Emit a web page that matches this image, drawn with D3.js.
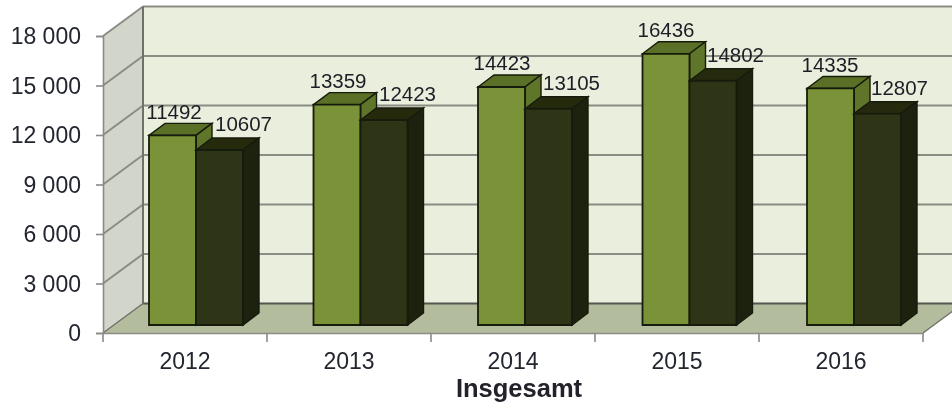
<!DOCTYPE html>
<html><head><meta charset="utf-8">
<script src="https://cdn.jsdelivr.net/npm/d3@7/dist/d3.min.js"></script>
<style>html,body{margin:0;background:#fff}svg{display:block}text{font-family:"Liberation Sans",Arial,sans-serif}</style>
</head><body><svg id="c" width="952" height="408"></svg>
<script>
const years=["2012","2013","2014","2015","2016"];
const seriesA=[11492,13359,14423,16436,14335];
const seriesB=[10607,12423,13105,14802,12807];
const yTicks=[0,3000,6000,9000,12000,15000,18000];
const axisTitle="Insgesamt";
const C={wall:"#e9eedd",side:"#d2d5ca",floor:"#b3bd9e",grid:"#8b8d84",edge:"#6f716a",
 a:"#7a9238",aTop:"#5a6f26",aSide:"#5f7629",b:"#2e3417",bTop:"#252b11",bSide:"#1f240e",stroke:"#171b08",text:"#22252f"};
const W=952,H=408,depthX=40,depthY=-29.5,barDX=16,barDY=-12;
const svg=d3.select("#c");
const defs=svg.append("defs");
defs.append("filter").attr("id","soft").append("feGaussianBlur").attr("stdDeviation",0.7);
const root=svg.append("g").attr("filter","url(#soft)");
const x=d3.scaleBand().domain(years).range([103,923]);
const xBars=d3.scaleBand().domain(years).range([103,925.5]);
const y=d3.scaleLinear().domain([0,18000]).range([333,36]);
const barBase=y(0)-8;
const h=v=>y(0)-y(v);
const poly=(pts,fill,stroke,sw)=>root.append("polygon").attr("points",pts.map(p=>p.join(",")).join(" ")).attr("fill",fill).attr("stroke",stroke||"none").attr("stroke-width",sw||0);
const x0=x.range()[0],x1=x.range()[1];
poly([[x0+depthX,y(18000)+depthY],[W+5,y(18000)+depthY],[W+5,y(0)+depthY],[x0+depthX,y(0)+depthY]],C.wall);
poly([[x0,y(18000)],[x0+depthX,y(18000)+depthY],[x0+depthX,y(0)+depthY],[x0,y(0)]],C.side);
poly([[x0,y(0)],[x0+depthX,y(0)+depthY],[x1+depthX,y(0)+depthY],[x1,y(0)]],C.floor);
yTicks.forEach(t=>{
 const g=t===0?C.edge:C.grid;
 root.append("line").attr("x1",x0+depthX).attr("x2",W+5).attr("y1",y(t)+depthY).attr("y2",y(t)+depthY).attr("stroke",t===0?"#55574f":g).attr("stroke-width",2);
 root.append("line").attr("x1",x0).attr("x2",x0+depthX).attr("y1",y(t)).attr("y2",y(t)+depthY).attr("stroke",g).attr("stroke-width",t===0?1.5:2);
});
root.append("line").attr("x1",x0+depthX).attr("x2",x0+depthX).attr("y1",y(18000)+depthY).attr("y2",y(0)+depthY).attr("stroke",C.edge).attr("stroke-width",2);
root.append("line").attr("x1",x1).attr("x2",x1+depthX).attr("y1",y(0)).attr("y2",y(0)+depthY).attr("stroke",C.edge).attr("stroke-width",1.5);
const fmt=d3.formatLocale({thousands:" ",grouping:[3],decimal:",",currency:["",""]}).format(",d");
const ax=root.append("g").attr("transform",`translate(${x0},0)`).call(d3.axisLeft(y).tickValues(yTicks).tickFormat(fmt).tickSize(7).tickPadding(15));
ax.selectAll("text").attr("font-size",23).attr("fill",C.text).attr("dy","0.34em");
ax.selectAll("line,path").attr("stroke","#8a8a86").attr("stroke-width",1.6);
const bx=root.append("g").attr("transform",`translate(0,${y(0)})`).call(d3.axisBottom(x).tickSizeOuter(9).tickSize(0).tickPadding(20));
bx.selectAll("text").attr("font-size",23).attr("fill",C.text);
bx.selectAll("path").attr("stroke","#8a8a86").attr("stroke-width",1.6);
root.append("g").selectAll("line").data(years.concat(["end"])).join("line")
 .attr("x1",(d,i)=>x0+i*x.bandwidth()).attr("x2",(d,i)=>x0+i*x.bandwidth()).attr("y1",y(0)).attr("y2",y(0)+9).attr("stroke","#8a8a86").attr("stroke-width",1.6);
root.append("text").attr("x",519).attr("y",397).attr("text-anchor","middle").attr("font-size",25.5).attr("font-weight","bold").attr("fill","#22222a").text(axisTitle);
const bw=47;
function bar(year,v,off,f,ft,fs){
 const l=xBars(year)+off,r=l+bw,t=barBase-h(v),b=barBase;
 poly([[l,t],[l+barDX,t+barDY],[r+barDX,t+barDY],[r,t]],ft,C.stroke,1.4);
 poly([[r,t],[r+barDX,t+barDY],[r+barDX,b+barDY],[r,b]],fs,C.stroke,1.4);
 poly([[l,t],[r,t],[r,b],[l,b]],f,C.stroke,1.8);
}
years.forEach((yr,i)=>{
 bar(yr,seriesA[i],46,C.a,C.aTop,C.aSide);
 bar(yr,seriesB[i],46+bw,C.b,C.bTop,C.bSide);
});
years.forEach((yr,i)=>{
 root.append("text").attr("x",x(yr)+71).attr("y",barBase-h(seriesA[i])-24).attr("dy","0.35em").attr("text-anchor","middle").attr("font-size",20.5).attr("fill","#1e1e26").text(seriesA[i]);
 root.append("text").attr("x",x(yr)+140.5).attr("y",barBase-h(seriesB[i])-26).attr("dy","0.35em").attr("text-anchor","middle").attr("font-size",20.5).attr("fill","#1e1e26").text(seriesB[i]);
});
</script></body></html>
